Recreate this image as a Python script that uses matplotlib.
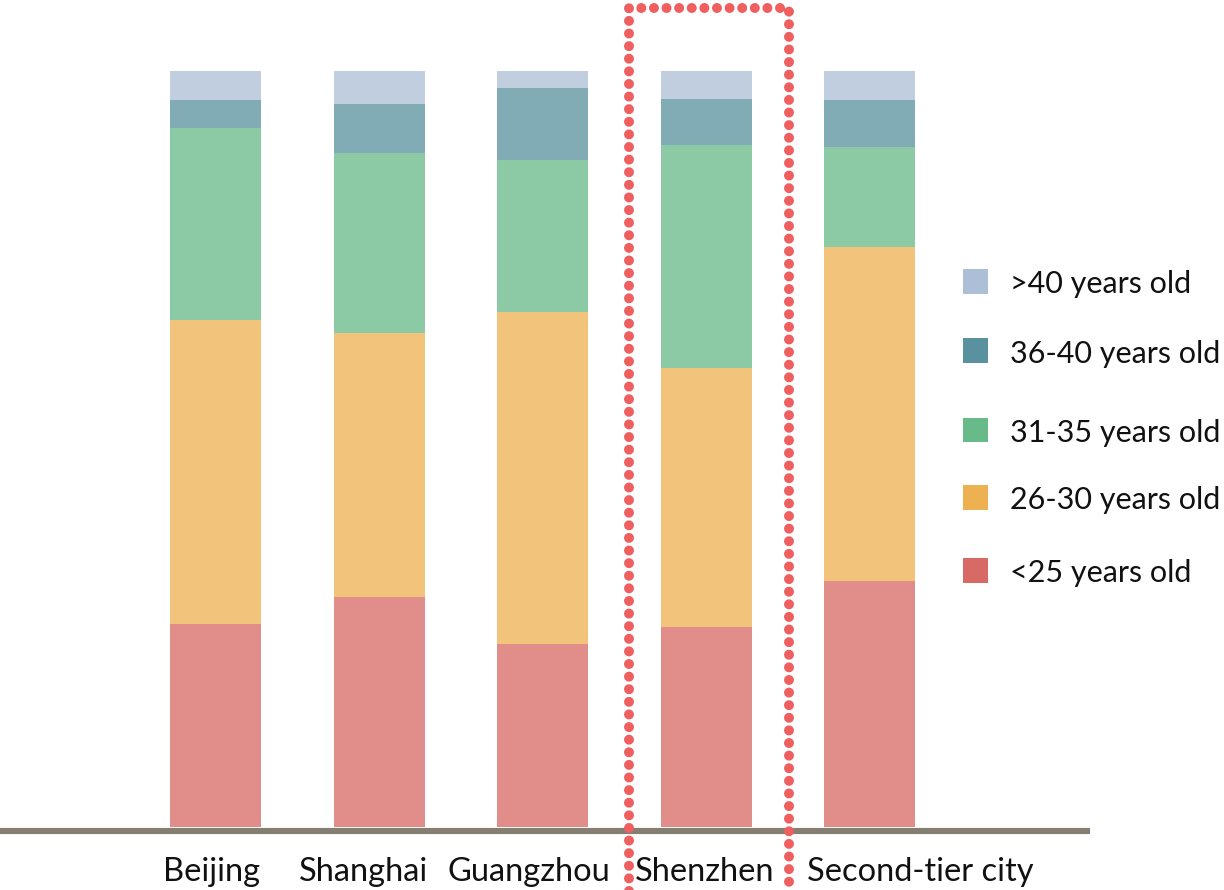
import matplotlib
matplotlib.use("Agg")
import matplotlib.pyplot as plt
import numpy as np
from matplotlib.patches import Rectangle

cities = ["Beijing", "Shanghai", "Guangzhou", "Shenzhen", "Second-tier city"]
groups = ["<25 years old", "26-30 years old", "31-35 years old", "36-40 years old", ">40 years old"]
under25 = [26.8, 30.4, 24.2, 26.4, 32.6]
age26_30 = [40.2, 35.0, 43.9, 34.3, 44.1]
age31_35 = [25.4, 23.8, 20.1, 29.5, 13.3]
age36_40 = [3.7, 6.5, 9.6, 6.1, 6.1]
over40 = [3.9, 4.4, 2.2, 4.0, 4.0]
series = [under25, age26_30, age31_35, age36_40, over40]
colors = ["#D86A66", "#EDB152", "#68BA89", "#5A919E", "#ADBFD6"]
highlight = "Shenzhen"

W, H = 1224, 890
plt.rcParams['font.family'] = ['Lato', 'DejaVu Sans']
fig = plt.figure(figsize=(W / 100, H / 100), dpi=100)
ax = fig.add_axes([3 / W, (H - 827) / H, (1087 - 3) / W, (827 - 71) / H])

x = np.arange(len(cities))
bottom = np.zeros(len(cities))
for vals, c in zip(series, colors):
    ax.bar(x, vals, width=0.557, bottom=bottom, color=c, alpha=0.76, linewidth=0, zorder=2)
    bottom += np.array(vals)

ax.set_xlim(-1.303, 5.329)
ax.set_ylim(0, 100)
ax.axis('off')

# baseline
ax.axhline(-0.57, color="#857F72", lw=4.4, zorder=3, clip_on=False)

# category labels
label_offsets = [-0.03, -0.095, -0.086, -0.01, 0.31]
for xi, name, off in zip(x, cities, label_offsets):
    ax.text(xi + off, -7.2, name, ha='center', va='baseline', fontsize=23.5,
            color='#111111', clip_on=False)

# dotted highlight frame
hi = cities.index(highlight)
l, r, top, bot = hi - 0.473, hi + 0.506, 108.3, -12
ax.plot([l, l, r, r], [bot, top, top, bot], color="#EF5F5F", lw=7.2,
        linestyle=(0, (0.001, 1.26)), dash_capstyle='round', solid_capstyle='round',
        clip_on=False, zorder=4)

# legend
leg_y = [281, 350.5, 430, 497, 570]
for yc, name, c in zip(leg_y, groups[::-1], colors[::-1]):
    fig.add_artist(Rectangle((963 / W, 1 - (yc + 12.5) / H), 25 / W, 25 / H,
                             transform=fig.transFigure, color=c, lw=0))
    fig.text(1010 / W, 1 - (yc + 12) / H, name, ha='left', va='baseline',
             fontsize=22, color='#111111')

fig.savefig("out.png", dpi=100)
